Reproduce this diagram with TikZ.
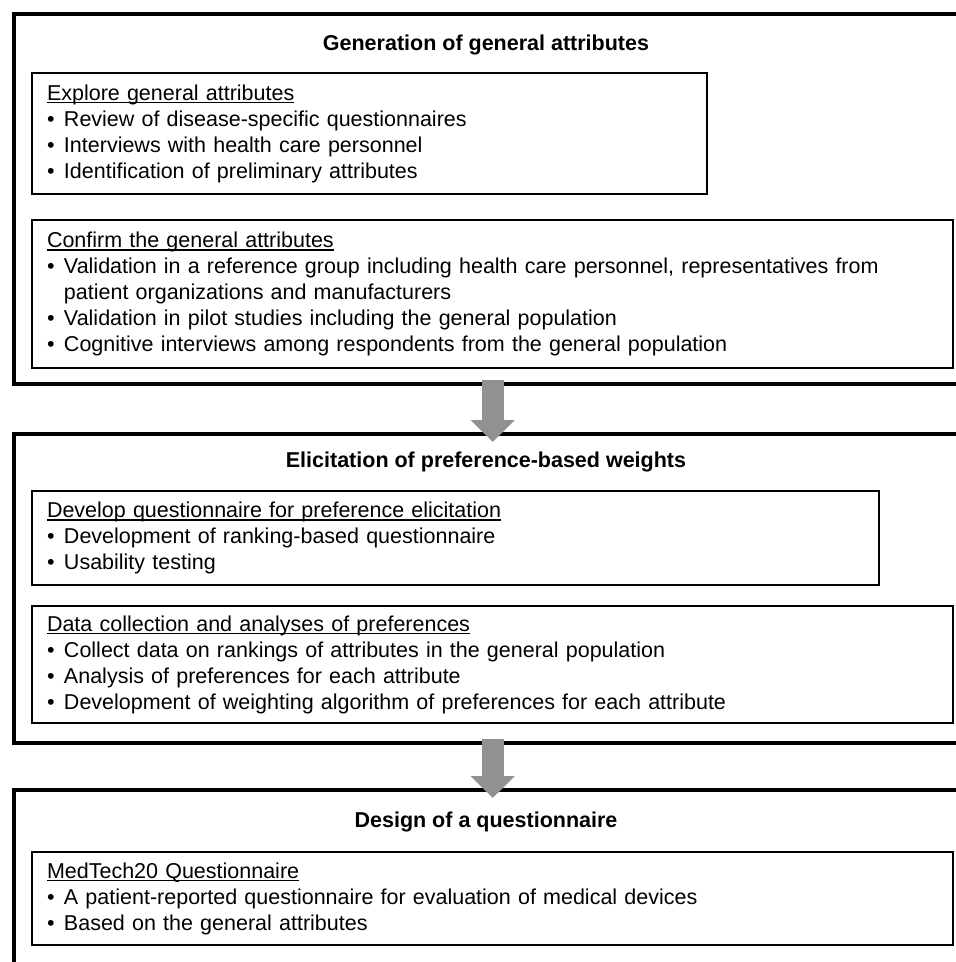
\documentclass[tikz,border=0pt]{standalone}
\usepackage{fontspec}
\setmainfont{Liberation Sans}
\usetikzlibrary{arrows.meta}
\definecolor{arrowgray}{RGB}{145,145,145}
\newsavebox{\headbox}
\newcommand{\uhead}[1]{\sbox{\headbox}{#1}\rlap{\rule[-3pt]{\wd\headbox}{1.3pt}}\usebox{\headbox}}
\newcommand{\bitem}[1]{\par\hangindent=17pt\hangafter=1\noindent\makebox[17pt][l]{\textbullet}#1}

\begin{document}
\begin{tikzpicture}[x=1pt,y=-1pt,
  outerbox/.style={draw,line width=3.5pt,anchor=north west,minimum width=958pt},
  innerbox/.style={draw,line width=2pt,anchor=north west,align=left,
    inner xsep=15pt,inner ysep=0pt,font=\fontsize{21.5}{26}\selectfont},
  title/.style={anchor=base,font=\fontsize{21.5}{26}\selectfont\bfseries},
  bigarrow/.style={draw=arrowgray,line width=22pt,-{Triangle[width=43pt,length=22pt]}}]
\clip (0,0) rectangle (956,962);
% three stages
\node[outerbox,minimum height=370pt] (gen) at (12,12) {};
\node[outerbox,minimum height=309pt] (elic) at (12,432) {};
\node[outerbox,minimum height=200pt] (design) at (12,788) {};
\node[title] (gentitle) at (486,50) {Generation of general attributes};
\node[title] (elictitle) at (486,467) {Elicitation of preference-based weights};
\node[title] (designtitle) at (486,827) {Design of a questionnaire};
% steps inside each stage
\node[innerbox,text width=645pt,minimum height=121pt] (explore) at (31,72) {%
  \uhead{Explore general attributes}
  \bitem{Review of disease-specific questionnaires}
  \bitem{Interviews with health care personnel}
  \bitem{Identification of preliminary attributes}};
\node[innerbox,text width=891pt,minimum height=148pt] (confirm) at (31,219) {%
  \uhead{Confirm the general attributes}
  \bitem{Validation in a reference group including health care personnel, representatives from\newline patient organizations and manufacturers}
  \bitem{Validation in pilot studies including the general population}
  \bitem{Cognitive interviews among respondents from the general population}};
\node[innerbox,text width=817pt,minimum height=94pt] (develop) at (31,490) {%
  \uhead{Develop questionnaire for preference elicitation}
  \bitem{Development of ranking-based questionnaire}
  \bitem{Usability testing}};
\node[innerbox,text width=891pt,minimum height=117pt] (collect) at (31,605) {%
  \uhead{Data collection and analyses of preferences}
  \bitem{Collect data on rankings of attributes in the general population}
  \bitem{Analysis of preferences for each attribute}
  \bitem{Development of weighting algorithm of preferences for each attribute}};
\node[innerbox,text width=891pt,minimum height=93pt] (medtech) at (31,851) {%
  \uhead{MedTech20 Questionnaire}
  \bitem{A patient-reported questionnaire for evaluation of medical devices}
  \bitem{Based on the general attributes}};
% arrows between stages
\draw[bigarrow] ([yshift=6pt]gen.south) -- ([yshift=-10pt]elic.north);
\draw[bigarrow] ([yshift=6pt]elic.south) -- ([yshift=-10pt]design.north);
\end{tikzpicture}
\end{document}
